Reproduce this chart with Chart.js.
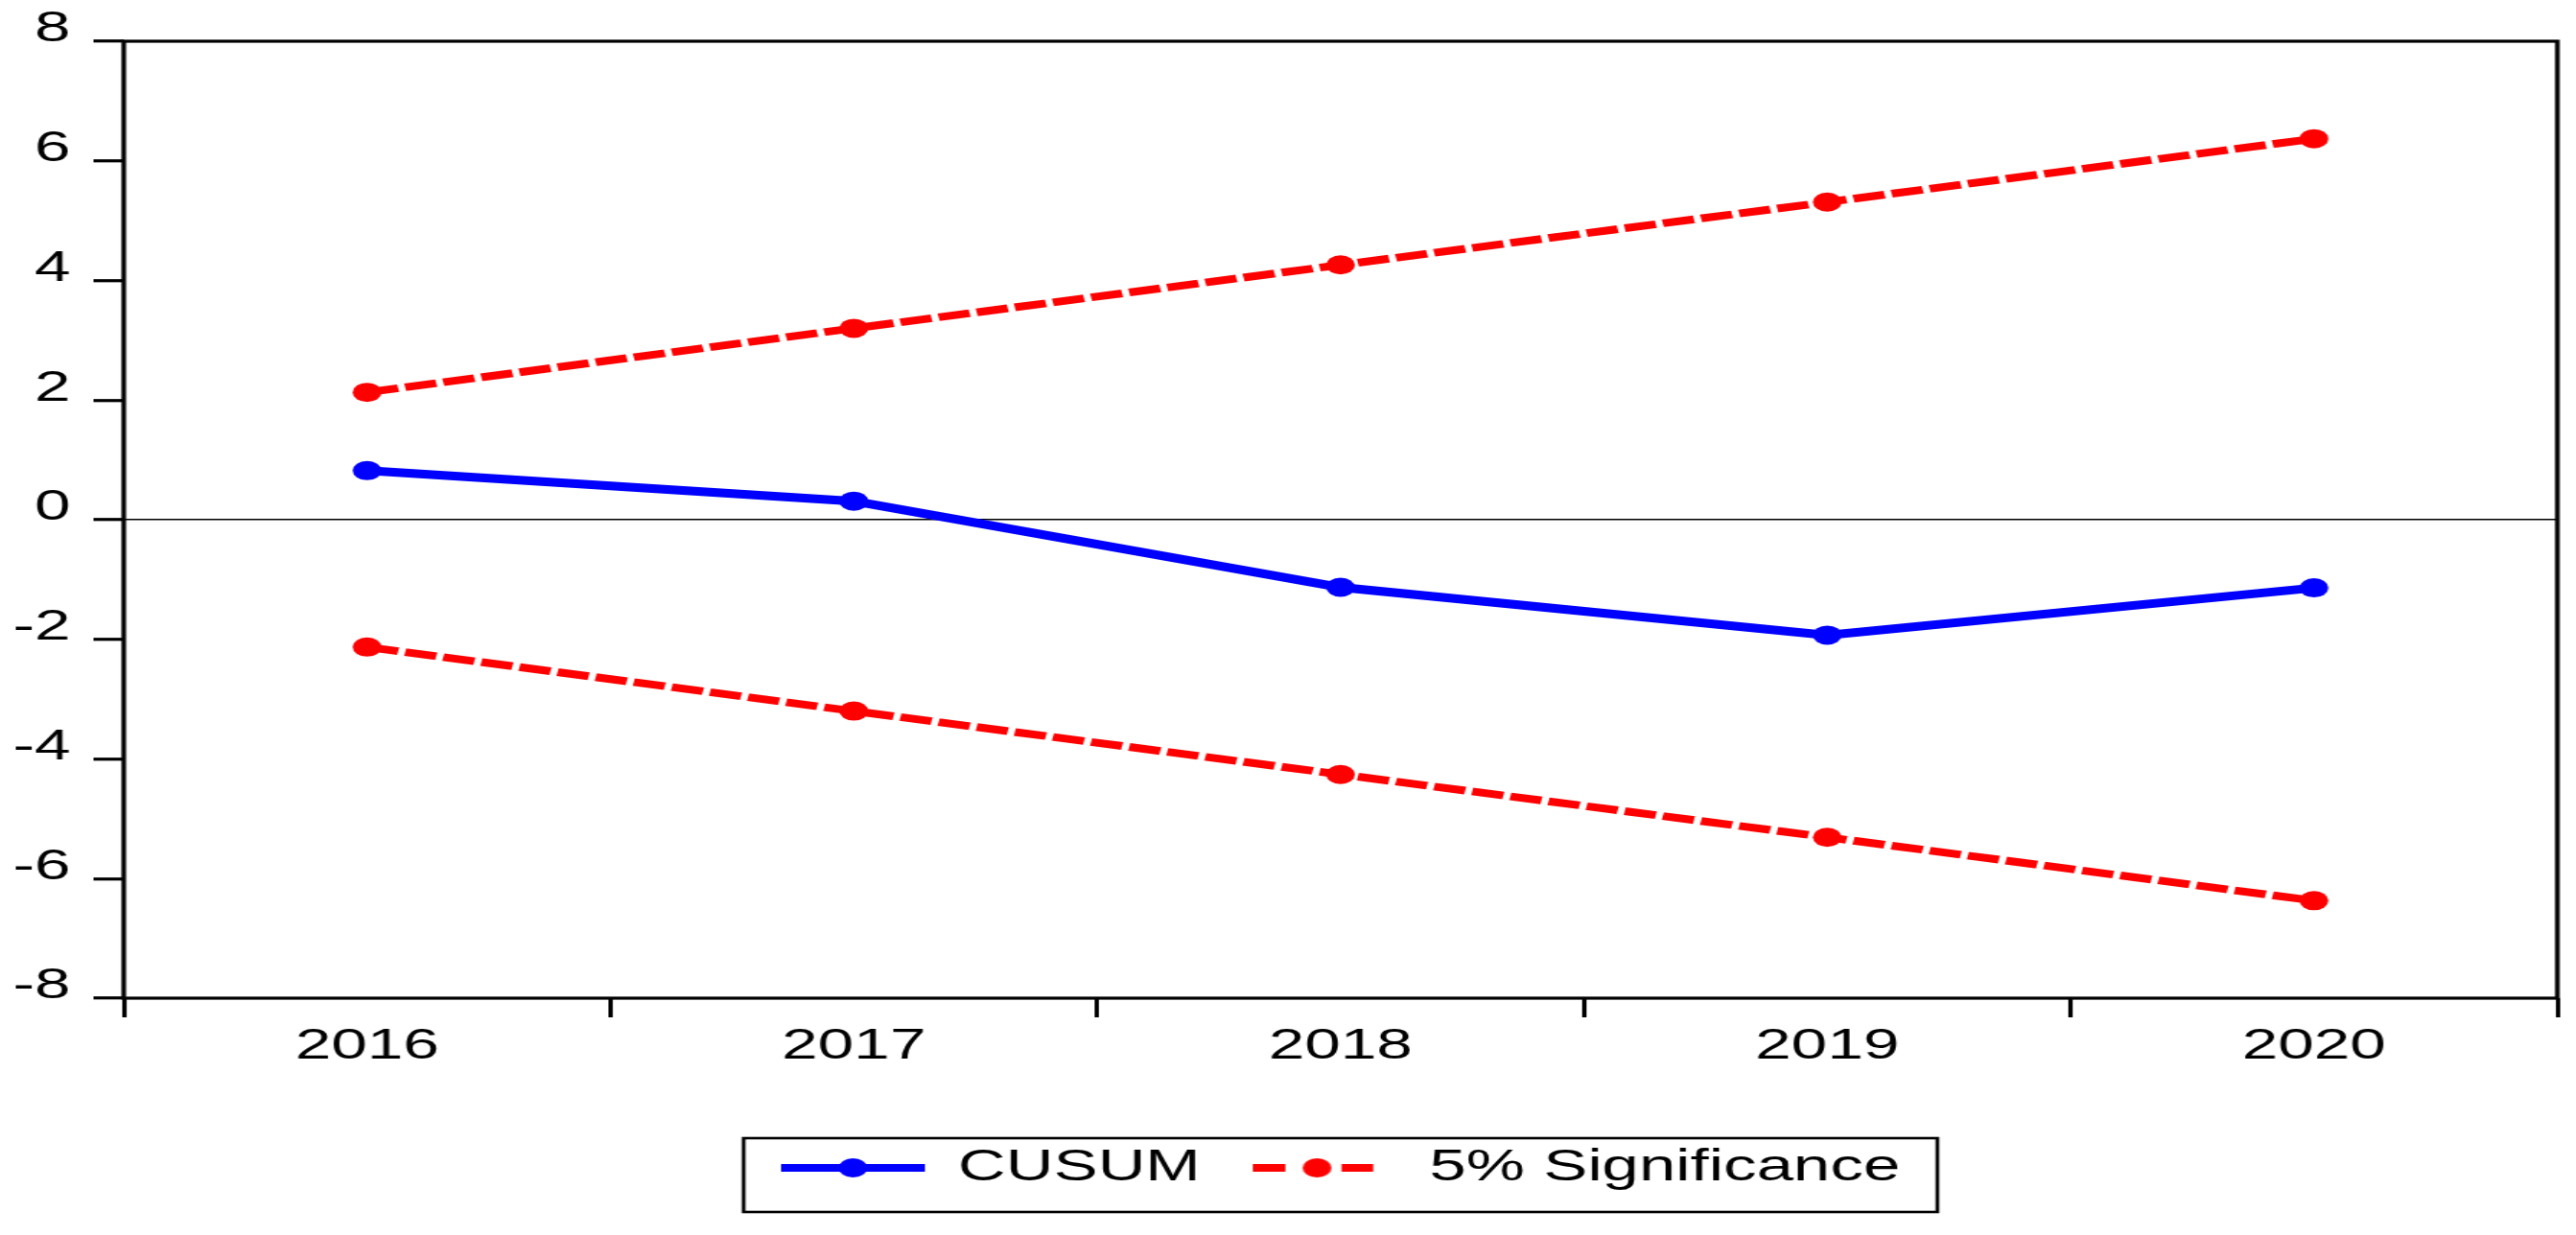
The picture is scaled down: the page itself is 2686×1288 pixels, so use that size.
<!DOCTYPE html>
<html><head><meta charset="utf-8">
<script src="https://cdn.jsdelivr.net/npm/chart.js@4/dist/chart.umd.min.js"></script>
<style>
html,body{margin:0;padding:0;background:#fff;overflow:hidden;}
#wrap{width:2686px;height:1288px;overflow:hidden;background:#fff;}
#c{transform-origin:0 0;transform:scaleX(1.49972);}
</style></head>
<body><div id="wrap"><canvas id="c" width="1791" height="1288" style="width:1791px;height:1288px"></canvas></div>
<script>
const categories = ['2016', '2017', '2018', '2019', '2020'];
const cusum = [0.82, 0.31, -1.13, -1.93, -1.14];
const upper5 = [2.13, 3.20, 4.26, 5.31, 6.37];
const lower5 = [-2.13, -3.20, -4.26, -5.31, -6.37];
const yTicks = [8, 6, 4, 2, 0, -2, -4, -6, -8];
const yTickLabels = ['8', '6', '4', '2', '0', '-2', '-4', '-6', '-8'];
const legendLabels = ['CUSUM', '5% Significance'];

const FONT = "'Liberation Sans', Arial, sans-serif";
const BLUE = '#0000FF', RED = '#FF0000';

function sample(color, dashed) {
  const c = document.createElement('canvas');
  c.width = 100; c.height = 24;
  const g = c.getContext('2d');
  g.fillStyle = color;
  let cx = 50;
  if (!dashed) { g.fillRect(0, 8, 100, 8); }
  else { g.fillRect(0, 8, 23, 8); g.fillRect(62, 8, 22, 8); cx = 45; }
  g.beginPath(); g.arc(cx, 12, 10, 0, Math.PI * 2); g.fill();
  return c;
}
const sampleImgs = [sample(BLUE, false), sample(RED, true)];

const framePlugin = {
  id: 'frame',
  afterDraw(chart) {
    const ctx = chart.ctx, a = chart.chartArea;
    ctx.save();
    ctx.strokeStyle = '#000'; ctx.lineWidth = 3.2;
    ctx.strokeRect(a.left, a.top, a.right - a.left, a.bottom - a.top);
    const hb = chart.legend.legendHitBoxes;
    if (hb && hb.length) {
      const f = hb[0], l = hb[hb.length - 1];
      const cy = f.top + f.height / 2;
      const x0 = f.left - 26, x1 = l.left + l.width + 26;
      ctx.lineWidth = 2.6;
      ctx.strokeRect(x0, cy - 31, x1 - x0, 77);
    }
    ctx.restore();
  }
};

new Chart(document.getElementById('c'), {
  type: 'line',
  data: {
    labels: categories,
    datasets: [
      { label: legendLabels[0], data: cusum, borderColor: BLUE, backgroundColor: BLUE,
        borderWidth: 9, pointRadius: 10, pointHoverRadius: 10, pointBorderWidth: 0,
        pointBackgroundColor: BLUE, tension: 0, fill: false },
      { label: legendLabels[1], data: upper5, borderColor: RED, backgroundColor: RED,
        borderWidth: 8, borderDash: [22, 5], pointRadius: 10, pointHoverRadius: 10, pointBorderWidth: 0,
        pointBackgroundColor: RED, tension: 0, fill: false },
      { label: legendLabels[1], data: lower5, borderColor: RED, backgroundColor: RED,
        borderWidth: 8, borderDash: [22, 5], pointRadius: 10, pointHoverRadius: 10, pointBorderWidth: 0,
        pointBackgroundColor: RED, tension: 0, fill: false }
    ]
  },
  options: {
    responsive: false,
    animation: false,
    devicePixelRatio: 1,
    events: [],
    layout: { padding: { left: 0, right: 13, top: 41, bottom: 37 } },
    scales: {
      x: {
        offset: true,
        grid: { offset: true, color: 'rgba(0,0,0,0)', drawOnChartArea: false, drawTicks: true,
                tickLength: 20, tickColor: '#000', tickWidth: 3 },
        border: { display: false },
        ticks: { font: { family: FONT, size: 45 }, color: '#000', padding: 4, maxRotation: 0, autoSkip: false },
        afterFit(s) { s.height = 118; }
      },
      y: {
        min: -8, max: 8,
        afterBuildTicks(s) { s.ticks = yTicks.map(v => ({ value: v })); },
        grid: {
          color: c => (c.tick && c.tick.value === 0) ? '#000' : 'rgba(0,0,0,0)',
          lineWidth: 1.5,
          tickLength: 21, tickColor: '#000', tickWidth: 3.2
        },
        border: { display: false },
        ticks: {
          font: { family: FONT, size: 45 }, color: '#000', padding: 16, labelOffset: -12,
          callback: v => yTickLabels[yTicks.indexOf(v)]
        },
        afterFit(s) { s.width = 86; }
      }
    },
    plugins: {
      tooltip: { enabled: false },
      legend: {
        position: 'bottom',
        fullSize: false,
        labels: {
          usePointStyle: true,
          pointStyleWidth: 100,
          padding: 36,
          color: '#000',
          font: { family: FONT, size: 46 },
          filter: (item) => item.datasetIndex !== 2,
          generateLabels(chart) {
            const items = Chart.defaults.plugins.legend.labels.generateLabels(chart);
            items.forEach(it => { it.pointStyle = sampleImgs[Math.min(it.datasetIndex, 1)]; it.lineWidth = 0; });
            return items;
          }
        }
      }
    }
  },
  plugins: [framePlugin]
});
</script>
</body></html>
